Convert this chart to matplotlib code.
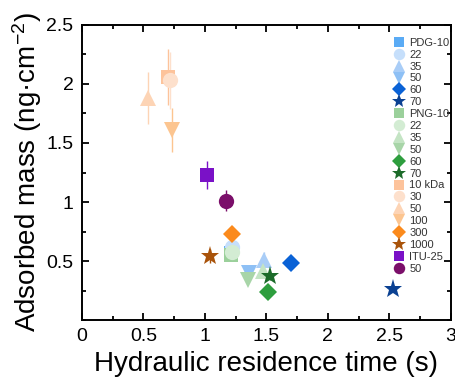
import matplotlib
matplotlib.use("Agg")
import matplotlib.pyplot as plt
from matplotlib.ticker import MultipleLocator

plt.rcParams['font.family'] = ['Liberation Sans', 'DejaVu Sans']
plt.rcParams['mathtext.default'] = 'regular'

# series labels as in the legend
labels = ["PDG-10", "22", "35", "50", "60", "70",
          "PNG-10", "22", "35", "50", "60", "70",
          "10 kDa", "30", "50", "100", "300", "1000",
          "ITU-25", "50"]
# hydraulic residence time (s)
res_time = [1.21, 1.22, 1.48, 1.36, 1.70, 2.53,
            1.21, 1.22, 1.47, 1.35, 1.51, 1.53,
            0.70, 0.72, 0.54, 0.73, 1.22, 1.04,
            1.02, 1.17]
# adsorbed mass (ng/cm2)
mass = [0.57, 0.62, 0.51, 0.40, 0.48, 0.26,
        0.55, 0.58, 0.42, 0.34, 0.24, 0.37,
        2.06, 2.03, 1.88, 1.61, 0.73, 0.54,
        1.23, 1.01]
mass_err = [0.03, 0.04, 0.07, 0.02, 0.03, 0.01,
            0.02, 0.02, 0.02, 0.02, 0.02, 0.03,
            0.24, 0.24, 0.22, 0.19, 0.07, 0.06,
            0.12, 0.09]

markers = ['s', 'o', '^', 'v', 'D', '*'] * 3 + ['s', 'o']
colors = ['#5aabf5', '#c6dffb', '#a9cdf7', '#8ec0f5', '#0a62d6', '#0b4192',
          '#9bd09b', '#d3ecd3', '#c4e4c4', '#a8d5a8', '#2e9e3e', '#1c6b2a',
          '#fdc39b', '#fde0cc', '#fdd4b5', '#fcc590', '#fb8a1c', '#a9530a',
          '#7a11c7', '#7b0f6a']
sizes = {'s': 10, 'o': 11, '^': 12, 'v': 12, 'D': 9, '*': 14}

fig = plt.figure(figsize=(4.55, 3.89), dpi=100)
ax = fig.add_axes([0.180, 0.177, 0.811, 0.759])

for i in range(len(labels)):
    ax.errorbar(res_time[i], mass[i], yerr=mass_err[i], fmt=markers[i],
                color=colors[i], ms=sizes[markers[i]], mew=0, elinewidth=1,
                capsize=4.5, capthick=1, label=labels[i])

ax.set_xlim(0, 3)
ax.set_ylim(0, 2.5)
ax.xaxis.set_minor_locator(MultipleLocator(0.25))
ax.yaxis.set_minor_locator(MultipleLocator(0.25))
ax.set_xticks([0, 0.5, 1, 1.5, 2, 2.5, 3], ['0', '0.5', '1', '1.5', '2', '2.5', '3'])
ax.set_yticks([0.5, 1, 1.5, 2, 2.5], ['0.5', '1', '1.5', '2', '2.5'])
ax.tick_params(which='both', direction='in', top=True, right=True, labelsize=14, width=1.3)
ax.tick_params(which='major', length=5, pad=6)
ax.tick_params(which='minor', length=3)
for s in ax.spines.values():
    s.set_linewidth(1.4)

ax.set_xlabel("Hydraulic residence time (s)", fontsize=20, labelpad=4)
ax.set_ylabel("Adsorbed mass (ng·cm$^{-2}$)", fontsize=20, labelpad=2)

handles, labs = ax.get_legend_handles_labels()
handles = [h[0] for h in handles]
ax.legend(handles, labs, loc='upper left', bbox_to_anchor=(0.826, 0.975),
          frameon=False, fontsize=8, markerscale=0.75, labelspacing=0.17,
          handletextpad=0.35, handlelength=1.2, borderpad=0, labelcolor='#333333')

fig.savefig("out.png", dpi=100)
